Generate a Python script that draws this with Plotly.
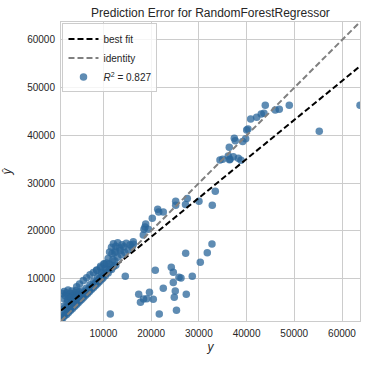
import plotly.graph_objects as go

# ---- data ----
# actual charges (y) and model predictions (y_hat)
band_low_true = [1150, 1300, 1500, 1700, 1900, 2100, 2300, 2500, 2700, 2900, 3100, 3300, 3500, 3700, 3900,
                 4100, 4300, 4500, 4700, 4900, 5100, 5300, 5500, 5700, 5900, 6100, 6300, 6500, 6700, 6900,
                 7100, 7300, 7500, 7700, 7900, 8100, 8300, 8500, 8700, 8900, 9100, 9300, 9500, 9700, 9900,
                 10100, 10400, 10700, 11000, 11300, 11700, 12100, 12600]
band_low_pred = [1400, 1900, 1700, 2300, 2200, 2700, 2500, 3100, 2900, 3500, 3300, 3900, 3700, 4300, 4100,
                 4700, 4500, 5100, 4900, 5500, 5300, 5900, 5700, 6300, 6100, 6700, 6500, 7100, 6900, 7500,
                 7300, 7900, 7700, 8300, 8100, 8700, 8500, 9100, 8900, 9500, 9300, 9900, 9700, 10300, 10100,
                 10700, 10600, 11300, 11200, 11900, 11900, 12500, 12800]

band_high_true = [1300, 1600, 2000, 2400, 2800, 3200, 3600, 4000, 4400, 4800, 5200, 5600, 6000, 6400, 6800,
                  7200, 7600, 8000, 8400, 8800, 9200, 9600, 10000, 10400, 10800, 11200, 11600, 12000, 12400,
                  8600, 9400, 10200, 11000, 11800, 12400, 13000, 13800, 14500, 15200, 16000,
                  4400, 5000, 5800, 6500, 7200, 7900, 8600, 9400, 10100, 10700]
band_high_pred = [3500, 4200, 3900, 5000, 4600, 5600, 5200, 6200, 5900, 6800, 6500, 7400, 7100, 8000, 7700,
                  8700, 8400, 9500, 9200, 10400, 10100, 11300, 11000, 12200, 11900, 13100, 12800, 14000, 13700,
                  11700, 12300, 13000, 14200, 15200, 15400, 14500, 15000, 15500, 16000, 16600,
                  8300, 8900, 9600, 10200, 10800, 11300, 11800, 12600, 13100, 13300]

blob_true = [1400, 1800, 2000, 2300, 2600, 2800, 3100, 3400, 3700, 4000, 4300, 4600, 1700, 2500, 3300, 4900]
blob_pred = [6900, 7300, 6400, 7000, 7600, 6200, 6900, 7400, 6500, 7000, 7500, 6700, 5800, 5500, 6000, 7200]

mid_true = [11700, 12100, 12600, 13000, 13400, 13900, 14300, 14800, 12500, 13600, 15600, 11300]
mid_pred = [16600, 17300, 16800, 17500, 16400, 17100, 16700, 17400, 15800, 15900, 17100, 15600]

high_true = [40863, 42121, 43084, 43650, 43921, 46017, 46855, 48950, 63770, 55235, 40025, 40300, 37427,
             37637, 39187, 39815, 36380, 34431, 34996, 36170, 36526, 37217, 38265, 38831, 36420, 33447,
             32818, 30032, 27580, 27204, 25151, 25151, 22553, 21380, 21590, 20248, 18866, 18510, 19410,
             18363, 16268, 18720, 16268]
high_pred = [43440, 43796, 44488, 44634, 46310, 45326, 45472, 46310, 46310, 40863, 41136, 41350, 39397,
             38894, 38726, 39313, 37511, 34851, 34998, 35689, 34998, 35542, 35207, 34788, 34900, 28293,
             25360, 26199, 26785, 25527, 26199, 25360, 23957, 24522, 23957, 22637, 21443, 20332, 20332,
             19138, 17734, 20800, 17190]

under_true = [32755, 31770, 27246, 30304, 24229, 20877, 24648, 14592, 28628, 26261, 25842, 24648, 22553,
              25067, 27371, 17399, 19662, 24858, 18405, 19096, 20458, 17776, 25318, 21715, 11449]
under_pred = [17253, 15430, 15304, 13419, 12371, 11743, 11324, 10486, 10486, 10130, 10276, 9187, 7972,
              7406, 6715, 6715, 7134, 6086, 5730, 5793, 5688, 5039, 3363, 2588, 2588]

y_actual = band_low_true + band_high_true + blob_true + mid_true + high_true + under_true
y_predicted = band_low_pred + band_high_pred + blob_pred + mid_pred + high_pred + under_pred

r2_value = 0.827
best_fit_slope = 0.817
best_fit_intercept = 2396
axis_limits = [1121.87, 63770.43]
tick_values = [10000, 20000, 30000, 40000, 50000, 60000]
tick_labels = ["10000", "20000", "30000", "40000", "50000", "60000"]

FONT = "Liberation Sans, Arial, sans-serif"
TXT = "#262626"
GRID = "#cccccc"

fig = go.Figure()

fig.add_trace(go.Scatter(
    x=y_actual, y=y_predicted, mode="markers",
    name="<i>R</i><sup>2</sup> = %.3f" % r2_value,
    marker=dict(color="#2a6599", size=7.5, opacity=0.75, line=dict(width=0)),
    legendrank=3,
))

fit_x = axis_limits
fit_y = [best_fit_slope * v + best_fit_intercept for v in fit_x]
fig.add_trace(go.Scatter(
    x=fit_x, y=fit_y, mode="lines", name="best fit",
    line=dict(color="#000000", width=2, dash="6px,3px"), legendrank=1,
))
fig.add_trace(go.Scatter(
    x=axis_limits, y=axis_limits, mode="lines", name="identity",
    line=dict(color="#808080", width=2, dash="6px,3px"), legendrank=2,
))

axis_common = dict(
    range=axis_limits, tickvals=tick_values, ticktext=tick_labels,
    showgrid=True, gridcolor=GRID, gridwidth=1,
    showline=True, linecolor=GRID, linewidth=1, mirror=True,
    zeroline=False, ticks="", automargin=False,
    tickfont=dict(family=FONT, size=10, color=TXT),
)

fig.update_layout(
    width=377, height=365,
    margin=dict(l=61, r=17, t=22, b=44, autoexpand=False),
    paper_bgcolor="white", plot_bgcolor="white",
    font=dict(family=FONT, color=TXT),
    title=dict(text="Prediction Error for RandomForestRegressor", x=0.5, xref="paper",
               y=1 - 13 / 365, yref="container", yanchor="middle", xanchor="center",
               font=dict(family=FONT, size=12, color=TXT)),
    xaxis=dict(axis_common, ticklabelstandoff=3,
               title=dict(text="<i>y</i>", standoff=4,
                          font=dict(family=FONT, size=12, color=TXT))),
    yaxis=dict(axis_common, ticklabelstandoff=3,
               title=dict(text="<i>ŷ</i>", standoff=13,
                          font=dict(family=FONT, size=12, color=TXT))),
    legend=dict(x=0.005, y=0.995, xanchor="left", yanchor="top",
                bgcolor="rgba(255,255,255,0.8)", bordercolor=GRID, borderwidth=1,
                font=dict(family=FONT, size=10, color=TXT), tracegroupgap=0,
                itemwidth=30),
    showlegend=True,
)

fig.write_html("out.html", config={"displayModeBar": False},
               post_script="document.body.style.margin='0';")
